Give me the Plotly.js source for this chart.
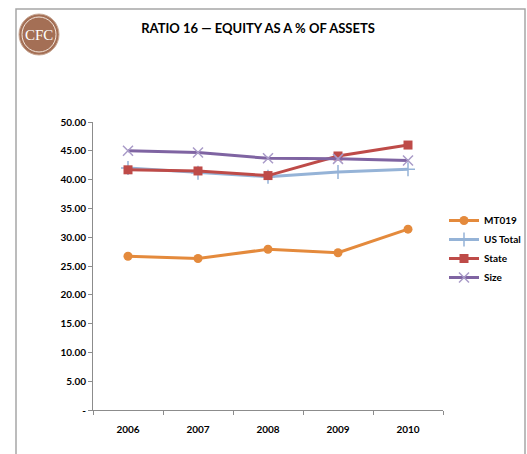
<!DOCTYPE html>
<html><head><meta charset="utf-8">
<script src="https://cdn.plot.ly/plotly-3.0.1.min.js"></script>
<style>html,body{margin:0;padding:0;background:#fff}#c{width:527px;height:454px}</style>
</head><body><div id="c"></div>
<script>
const years = ['2006','2007','2008','2009','2010'];
const mt019 = [26.7, 26.3, 27.9, 27.3, 31.4];
const usTotal = [42.0, 41.2, 40.5, 41.3, 41.8];
const state = [41.7, 41.5, 40.7, 44.1, 46.0];
const size = [45.0, 44.7, 43.7, 43.6, 43.3];
const yTickVals = [0,5,10,15,20,25,30,35,40,45,50];
const yTickText = ['-','5.00','10.00','15.00','20.00','25.00','30.00','35.00','40.00','45.00','50.00'];

const F = 'Lato, "Open Sans", sans-serif';
const traces = [
  {x: years, y: mt019, name: 'MT019', mode: 'lines+markers',
   line: {color: '#E48A3C', width: 3}, marker: {symbol: 'circle', size: 9, color: '#E48A3C'}},
  {x: years, y: usTotal, name: 'US Total', mode: 'lines+markers',
   line: {color: '#95B3D7', width: 3}, marker: {symbol: 'cross-thin-open', size: 10, color: '#95B3D7', line: {width: 1.5, color: '#95B3D7'}}},
  {x: years, y: state, name: 'State', mode: 'lines+markers',
   line: {color: '#BE4B48', width: 3}, marker: {symbol: 'square', size: 9, color: '#BE4B48'}},
  {x: years, y: size, name: 'Size', mode: 'lines+markers',
   line: {color: '#7F64A2', width: 3}, marker: {symbol: 'x-thin-open', size: 10, color: '#A99BC8', line: {width: 1.5, color: '#A99BC8'}}}
];

// paper coordinate helpers (plot area: x 93..443, y 122..410 px)
const px = v => (v - 93) / 350;
const py = v => (410 - v) / 288;

const layout = {
  width: 527, height: 454,
  margin: {l: 93, r: 84, t: 122, b: 44, autoexpand: false},
  paper_bgcolor: '#fff', plot_bgcolor: '#fff',
  showlegend: true,
  title: {text: 'RATIO 16 — EQUITY AS A % OF ASSETS', x: 258/527, xref: 'container', xanchor: 'center',
          y: 1 - 28/454, yref: 'container', yanchor: 'middle',
          font: {family: F, size: 13, weight: 'bold', color: '#000'}},
  xaxis: {type: 'category', range: [-0.5, 4.5], showline: true, linecolor: '#8C8C8C', linewidth: 1,
          ticks: 'outside', tickson: 'boundaries', ticklen: 4, tickcolor: '#8C8C8C',
          showgrid: false, zeroline: false, ticklabelstandoff: 10,
          tickfont: {family: F, size: 10, weight: 'bold', color: '#000'}},
  yaxis: {range: [0, 50], tickvals: yTickVals, ticktext: yTickText, showline: true, linecolor: '#8C8C8C',
          linewidth: 1, ticks: 'outside', ticklen: 4, tickcolor: '#8C8C8C', showgrid: false, zeroline: false,
          tickfont: {family: F, size: 10, weight: 'bold', color: '#000'}},
  legend: {x: px(444), xanchor: 'left', y: py(206), yanchor: 'top', font: {family: F, size: 10, weight: 'bold', color: '#000'},
           itemwidth: 30, tracegroupgap: 7, bgcolor: 'rgba(0,0,0,0)'},
  shapes: [
    {type: 'rect', xref: 'paper', yref: 'paper', x0: px(16), x1: px(525), y0: py(470), y1: py(9),
     line: {color: '#A6A6A6', width: 1.5}, fillcolor: 'rgba(0,0,0,0)', layer: 'below'},
    {type: 'circle', xref: 'paper', yref: 'paper', x0: px(19), x1: px(59), y0: py(55), y1: py(14),
     line: {color: '#C9A996', width: 1}, fillcolor: '#A46F55'},
    {type: 'circle', xref: 'paper', yref: 'paper', x0: px(22), x1: px(56), y0: py(52), y1: py(17),
     line: {color: '#F3E6DC', width: 1}, fillcolor: 'rgba(0,0,0,0)'}
  ],
  annotations: [
    {xref: 'paper', yref: 'paper', x: px(39), y: py(35), text: 'CFC', showarrow: false,
     font: {family: 'Liberation Serif, DejaVu Serif, serif', size: 15, color: '#fff'}, xanchor: 'center', yanchor: 'middle'}
  ]
};
Plotly.newPlot('c', traces, layout, {displayModeBar: false, staticPlot: true});
</script></body></html>
